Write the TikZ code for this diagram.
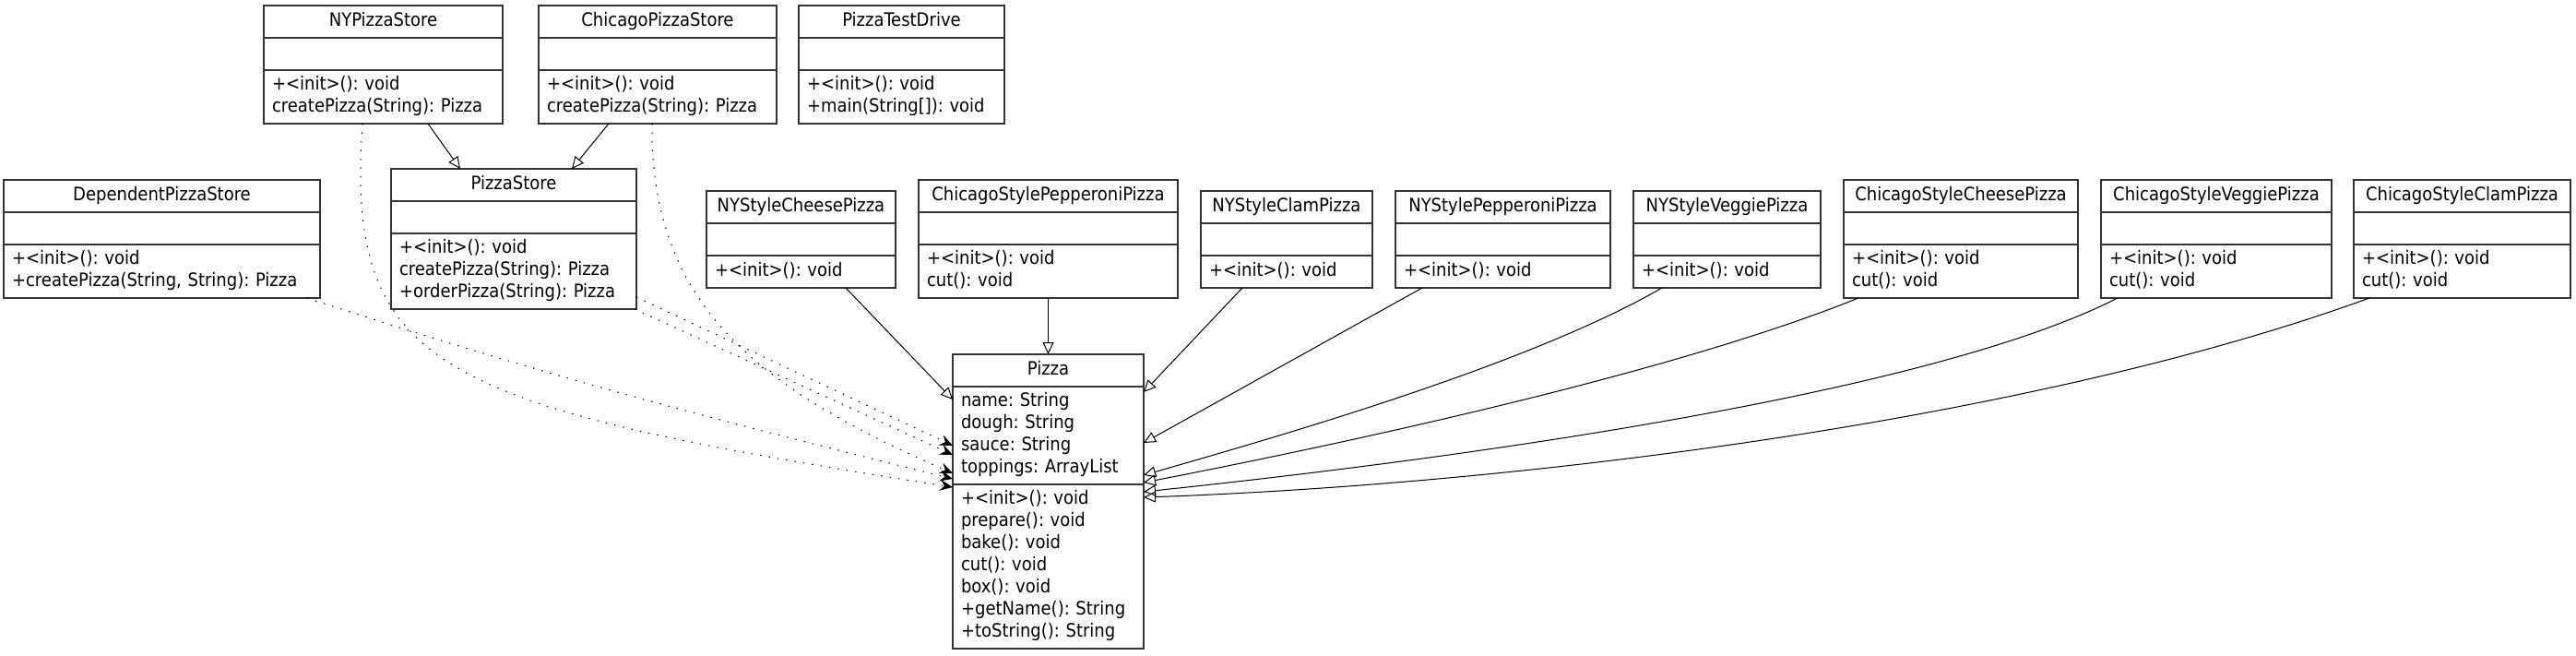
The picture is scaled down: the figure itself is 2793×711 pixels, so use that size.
\documentclass[tikz,border=0pt]{standalone}
\usepackage{fontspec}
\setmainfont{DejaVu Sans Condensed}
\usetikzlibrary{positioning}
\usetikzlibrary{arrows.meta}
\tikzset{
  umlpart/.style={draw=black!80, line width=0.6pt, inner xsep=4.5pt, inner ysep=2.5pt, outer sep=0pt, minimum height=17.5pt,
    font=\fontsize{10}{12}\selectfont\frenchspacing, execute at begin node=\strut, execute at end node=\strut},
  extends/.style={draw, line width=0.5pt, -{Triangle[open, length=6.5pt, width=6pt]}},
  depends/.style={draw, line width=0.5pt, dash pattern=on 0.75pt off 4pt, -{Stealth[length=7pt, width=6pt, inset=2.5pt]}}
}
% #1 name, #2 x, #3 y, #4 width (px), #5 title, #6 attributes, #7 operations
\newcommand{\umlclass}[7] {\pgfmathsetlengthmacro{\umlwidth}{#4*0.5pt-9pt}
  \node[umlpart, text width=\umlwidth, align=center, anchor=north west] (#1) at (#2,#3) {#5};
  \node[umlpart, text width=\umlwidth, align=left, below=0pt of #1] (#1-attr) {#6};
  \node[umlpart, text width=\umlwidth, align=left, below=0pt of #1-attr] (#1-ops) {#7};}
\newcommand{\umlextends}[2] {\draw [extends] (#1) -- (#2);}
\newcommand{\umlextendsarc}[5] {\draw [extends] (#1) to[out=#3, in=#4, looseness=#5] (#2);}
\newcommand{\umldepends}[2] {\draw [depends] (#1) -- (#2);}
\newcommand{\umldependsarc}[4] {\draw [depends] (#1) .. controls (#3) and (#4) .. (#2);}

\begin{document}
\begin{tikzpicture}[x=0.5pt, y=-0.5pt]
\useasboundingbox (0,0) rectangle (2793,711);

\umlclass {NYPizzaStore} {286}{6} {259} {NYPizzaStore} {} {+<init>(): void\\createPizza(String): Pizza};
\umlclass {ChicagoPizzaStore} {584}{6} {258} {ChicagoPizzaStore} {} {+<init>(): void\\createPizza(String): Pizza};
\umlclass {PizzaTestDrive} {866}{6} {223} {PizzaTestDrive} {} {+<init>(): void\\+main(String[]): void};
\umlclass {DependentPizzaStore} {4}{195} {343} {DependentPizzaStore} {} {+<init>(): void\\+createPizza(String, String): Pizza};
\umlclass {PizzaStore} {424}{183} {266} {PizzaStore} {} {+<init>(): void\\createPizza(String): Pizza\\+orderPizza(String): Pizza};
\umlclass {NYStyleCheesePizza} {766}{207} {205} {NYStyleCheesePizza} {} {+<init>(): void};
\umlclass {ChicagoStylePepperoniPizza} {996}{195} {281} {ChicagoStylePepperoniPizza} {} {+<init>(): void\\cut(): void};
\umlclass {NYStyleClamPizza} {1302}{207} {186} {NYStyleClamPizza} {} {+<init>(): void};
\umlclass {NYStylePepperoniPizza} {1513}{207} {233} {NYStylePepperoniPizza} {} {+<init>(): void};
\umlclass {NYStyleVeggiePizza} {1771}{207} {203} {NYStyleVeggiePizza} {} {+<init>(): void};
\umlclass {ChicagoStyleCheesePizza} {1999}{195} {254} {ChicagoStyleCheesePizza} {} {+<init>(): void\\cut(): void};
\umlclass {ChicagoStyleVeggiePizza} {2278}{195} {250} {ChicagoStyleVeggiePizza} {} {+<init>(): void\\cut(): void};
\umlclass {ChicagoStyleClamPizza} {2552}{195} {235} {ChicagoStyleClamPizza} {} {+<init>(): void\\cut(): void};
\umlclass {Pizza} {1033}{384} {207} {Pizza} {name: String\\dough: String\\sauce: String\\toppings: ArrayList}
  {+<init>(): void\\prepare(): void\\bake(): void\\cut(): void\\box(): void\\+getName(): String\\+toString(): String};

\umlextends {[xshift=24.25pt]NYPizzaStore-ops.south} {[xshift=-29pt]PizzaStore.north};
\umlextends {[xshift=-26.5pt]ChicagoPizzaStore-ops.south} {[xshift=31.5pt]PizzaStore.north};
\umlextends {[xshift=24.25pt]NYStyleCheesePizza-ops.south} {[yshift=-24.5pt]Pizza.north west};
\umlextends {ChicagoStylePepperoniPizza-ops.south} {Pizza.north};
\umlextends {[xshift=-24pt]NYStyleClamPizza-ops.south} {[yshift=-20.5pt]Pizza.north east};
\umlextends {[xshift=-43.75pt]NYStylePepperoniPizza-ops.south} {[yshift=-48pt]Pizza.north east};
\umlextendsarc {[xshift=-35.25pt]NYStyleVeggiePizza-ops.south} {[yshift=-65.5pt]Pizza.north east} {210}{16}{0.7};
\umlextendsarc {[xshift=-55.5pt]ChicagoStyleCheesePizza-ops.south} {[yshift=-69.5pt]Pizza.north east} {202}{11}{0.7};
\umlextendsarc {[xshift=-53.5pt]ChicagoStyleVeggiePizza-ops.south} {[yshift=-74.5pt]Pizza.north east} {207}{6}{0.6};
\umlextendsarc {[xshift=-50.25pt]ChicagoStyleClamPizza-ops.south} {[yshift=-77.5pt]Pizza.north east} {200}{2}{0.75};

\umldepends {[yshift=6.5pt]PizzaStore-ops.south east} {[yshift=-49.5pt]Pizza.north west};
\umldepends {[xshift=-1pt]PizzaStore-ops.south east} {[yshift=-54.5pt]Pizza.north west};
\draw [depends] ([xshift=-7pt]DependentPizzaStore-ops.south east) to[out=-18, in=166] ([yshift=-67.5pt]Pizza.north west);
\umldependsarc {[xshift=-3pt]ChicagoPizzaStore-ops.south} {[yshift=-64.5pt]Pizza.north west} {705,330}{820,420};
\umldependsarc {[xshift=-11.25pt]NYPizzaStore-ops.south} {[yshift=-72pt]Pizza.north west} {375,400}{470,440};

\end{tikzpicture}
\end{document}
